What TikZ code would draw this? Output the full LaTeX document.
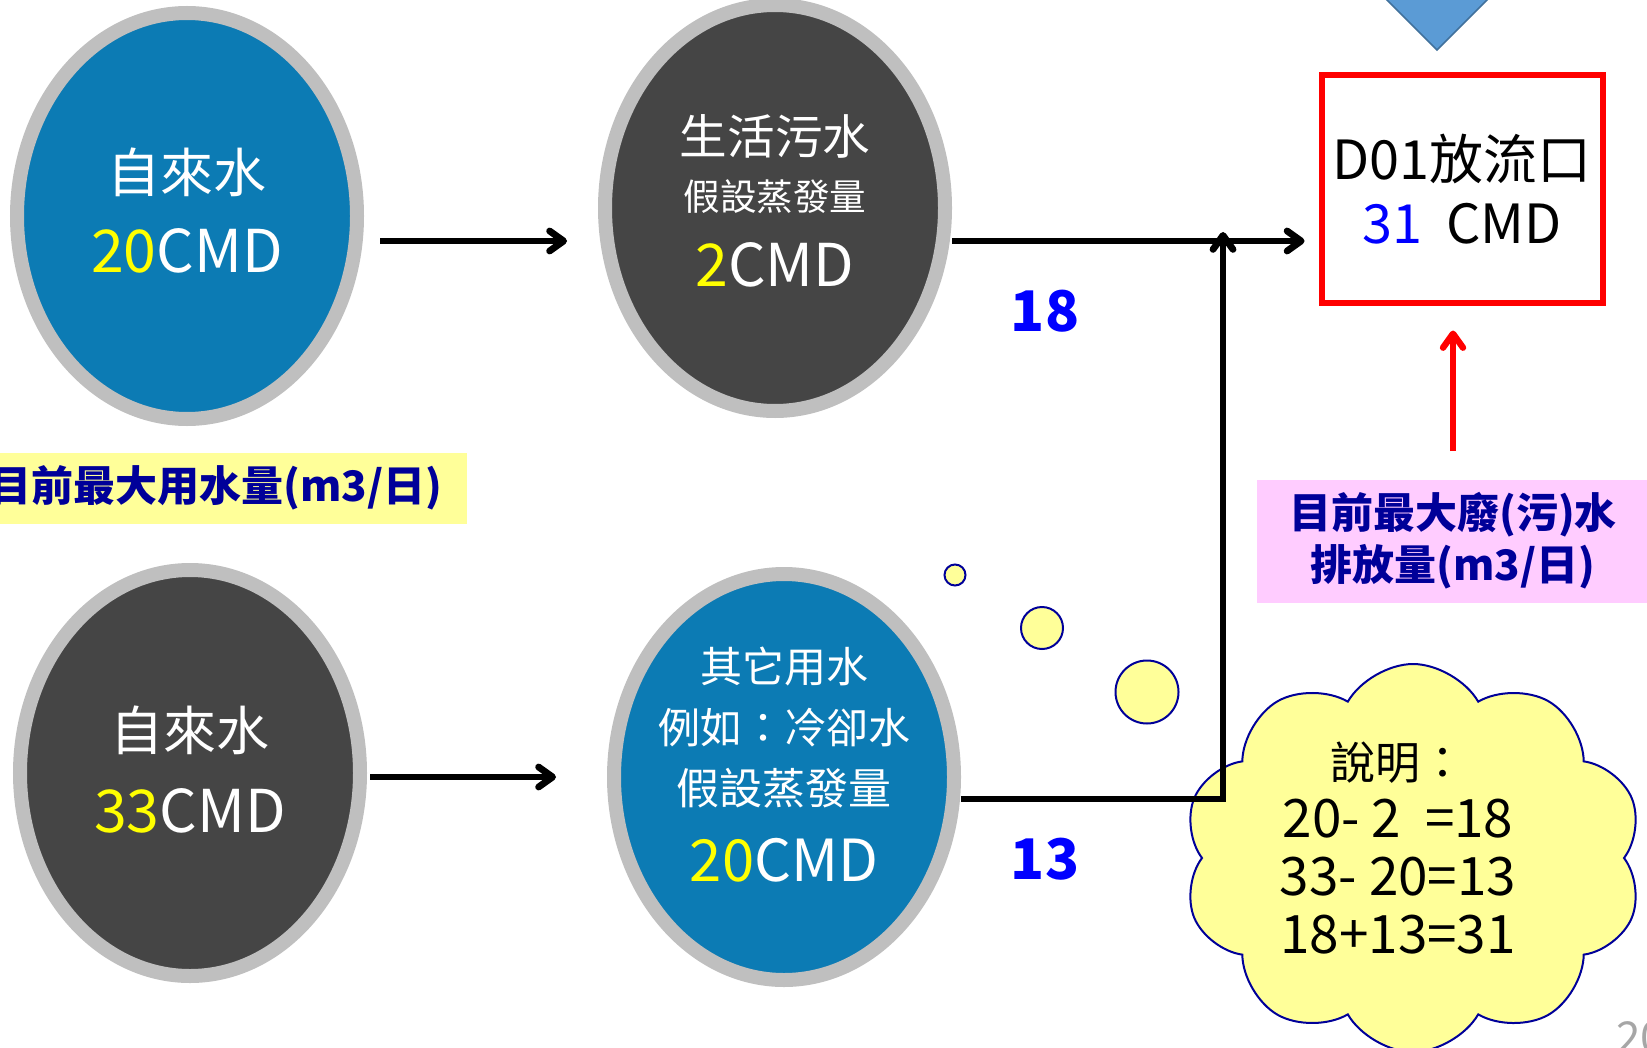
\documentclass[tikz,border=0pt]{standalone}
\usepackage{fontspec}
\setmainfont{Noto Sans CJK TC}
\usetikzlibrary{shapes, shapes.symbols, arrows.meta, positioning, calc}
\definecolor{waterblue}{RGB}{12, 123, 180}
\definecolor{darkgrey}{RGB}{69, 69, 69}
\definecolor{ringgrey}{RGB}{191, 191, 191}
\definecolor{numyellow}{RGB}{255, 255, 0}
\definecolor{navy}{RGB}{0, 0, 153}
\definecolor{pinkbg}{RGB}{255, 204, 255}
\definecolor{paleyellow}{RGB}{255, 255, 153}
\definecolor{triblue}{RGB}{91, 155, 213}
\definecolor{triedge}{RGB}{65, 113, 156}
\definecolor{pagegrey}{RGB}{166, 166, 166}

\newcommand{\fs}[2]{\fontsize{#1}{#2}\selectfont}

\tikzset{
  waterball/.style={ellipse, draw=ringgrey, line width=7pt, minimum width=170pt, minimum height=203pt, inner sep=0pt},
  ballcaption/.style={text=white, align=center, inner sep=0pt},
  flow/.style={line width=3.2pt, -{Straight Barb[length=7pt, width=10pt, line width=3.4pt 0, round]}},
  bubble/.style={circle, draw=navy, line width=1pt, fill=paleyellow, inner sep=0pt},
}

\begin{document}
\begin{tikzpicture}[x=0.5pt, y=-0.5pt]
  \useasboundingbox (0,0) rectangle (1647,1048);

  % Water sources
  \node[waterball, fill=waterblue] (tap1) at (187,216) {};
  \node[waterball, fill=darkgrey] (dom) at (775,208) {};
  \node[waterball, fill=darkgrey] (tap2) at (190,773) {};
  \node[waterball, fill=waterblue] (cool) at (784,777) {};

  \node[ballcaption, font=\fs{26.5}{40}] (tap1text) at ($(tap1)+(0,-5)$) {自來水\\{\fs{29.5}{40}\textcolor{numyellow}{20}CMD}};
  \node[ballcaption, font=\fs{23.8}{28}] (domtext) at ($(dom)+(0,-7)$) {生活污水\\{\fs{18.3}{28}假設蒸發量}\\[10pt]{\fs{29.5}{28}\textcolor{numyellow}{2}CMD}};
  \node[ballcaption, font=\fs{26.5}{41}] (tap2text) at ($(tap2)+(0,-3)$) {自來水\\{\fs{29.5}{41}\textcolor{numyellow}{33}CMD}};
  \node[ballcaption, font=\fs{21}{30.5}] (cooltext) at ($(cool)+(0,-12)$) {其它用水\\例如：冷卻水\\{\fs{21.5}{30.5}假設蒸發量}\\[8pt]{\fs{29}{30.5}\textcolor{numyellow}{20}CMD}};

  % Outlet
  \filldraw[fill=triblue, draw=triedge, line width=0.75pt] (1357,-30) -- (1517,-30) -- (1437,50) -- cycle;
  \node[draw=red, line width=3pt, minimum width=140.5pt, minimum height=113.5pt, align=center, font=\fs{27}{32}] (outlet) at (1462,189) {D01放流口\\\textcolor{blue}{31}\ \ CMD};

  % Labels
  \node[fill=paleyellow, minimum width=251pt, minimum height=35.5pt, text=navy, font=\fs{21}{26}\bfseries] (usage) at (216,488) {目前最大用水量(m3/日)};
  \node[fill=pinkbg, minimum width=196pt, minimum height=61.5pt, align=center, text=navy, font=\fs{21}{26}\bfseries] (waste) at (1453,541) {目前最大廢(污)水\\排放量(m3/日)};
  \node[text=blue, font=\fs{28}{30}\bfseries] (n18) at (1045,311) {18};
  \node[text=blue, font=\fs{28}{30}\bfseries] (n13) at (1045,859) {13};

  % Note cloud
  \node[bubble, minimum size=10.5pt] (b1) at (955,575) {};
  \node[bubble, minimum size=21pt] (b2) at (1042,628) {};
  \node[bubble, minimum size=31.5pt] (b3) at (1147,692) {};
  \node[cloud, cloud puffs=10, cloud puff arc=120, cloud ignores aspect, draw=navy, line width=1pt, fill=paleyellow, minimum width=230pt, minimum height=194pt] (memo) at (1413,858) {};
  \node[align=center, font=\fs{26.5}{29}] (memotext) at ($(memo)+(-15,-10)$) {{\fs{22.5}{29}說明：}\\20- 2\ \ =18\\33- 20=13\\18+13=31};

  % Flows
  \coordinate (row1) at (0,241);
  \coordinate (row2) at (0,777);
  \coordinate (join) at (1223,799);
  \coordinate (jtop) at (1223,232);
  \draw[flow, shorten <=8pt, shorten >=15.5pt] (tap1.east |- row1) -- (dom.west |- row1);
  \draw[flow, shorten <=1.5pt, shorten >=25.5pt] (tap2.east |- row2) -- (cool.west |- row2);
  \draw[flow, shorten >=7pt] (dom.east |- row1) -- (outlet.west |- row1);
  \draw[flow] (cool.east |- join) -- (join) -- (join |- jtop);
  \draw[red, line width=3pt, -{Straight Barb[length=7pt, width=10pt, line width=3.2pt 0, round]}, shorten <=14pt, shorten >=12.5pt] (waste.north) -- (waste.north |- outlet.south);

  \node[anchor=base west, text=pagegrey, font=\fs{22}{24}] (page) at (1609,1053) {20};
\end{tikzpicture}
\end{document}
